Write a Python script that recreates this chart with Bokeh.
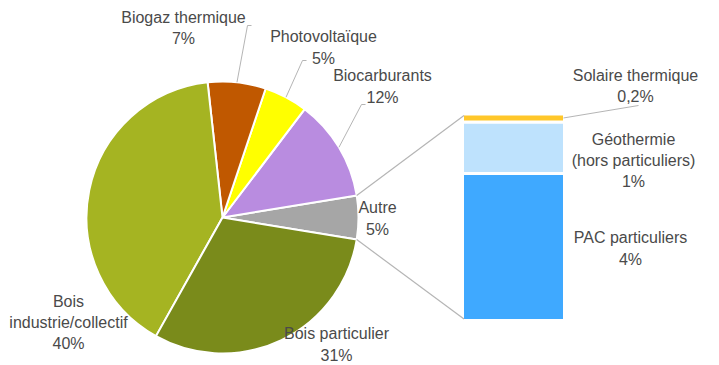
import numpy as np
from bokeh.plotting import figure
from bokeh.models import Range1d, ColumnDataSource
from bokeh.core.properties import value
from bokeh.embed import file_html
from bokeh.resources import INLINE

# ---------------- data ----------------
bar_names = ["PAC particuliers", "Géothermie\n(hors particuliers)", "Solaire thermique"]
bar_values = [3.7, 1.3, 0.2]
bar_pct = ["4%", "1%", "0,2%"]
bar_colors = ["#3FA9FF", "#BEE2FD", "#FFC72A"]

pie_names = ["Autre", "Biocarburants", "Photovoltaïque", "Biogaz thermique",
             "Bois\nindustrie/collectif", "Bois particulier"]
pie_values = [sum(bar_values), 12.1, 5.2, 6.9, 40.2, 30.6]
pie_pct = ["5%", "12%", "5%", "7%", "40%", "31%"]
pie_colors = ["#A6A6A6", "#B98CE0", "#FFFF00", "#C05800", "#A5B422", "#7A8B1B"]

# ---------------- layout (px, y measured from top) ----------------
W, H = 719, 365
CX, CY, R = 222, 217, 136           # pie centre / radius
BAR_X, BAR_W = 513, 102             # bar centre / width
BAR_TOP, BAR_BOT = 113.5, 320       # bar extent
TXT = "#4A4A4A"
LINE = "#B5B5B5"
FONT = value("Liberation Sans")

def Y(yt):
    return H - yt

p = figure(width=W, height=H, output_backend="svg", toolbar_location=None,
           x_range=Range1d(0, W), y_range=Range1d(0, H),
           x_axis_location=None, y_axis_location=None, min_border=0,
           outline_line_color=None, background_fill_color="white")
p.grid.visible = False

# bar range in percent units
total_bar = sum(bar_values)
ppu = (BAR_BOT - BAR_TOP) / total_bar
p.extra_y_ranges = {"bar": Range1d(-Y(BAR_BOT) / ppu, (H - Y(BAR_BOT)) / ppu)}

# ---------------- pie ----------------
vals = np.array(pie_values, dtype=float)
ang = vals / vals.sum() * 2 * np.pi
start = np.concatenate([[0], np.cumsum(ang)[:-1]]) - ang[0] / 2
end = start + ang
src = ColumnDataSource(dict(start=start, end=end, color=pie_colors))
p.wedge(x=CX, y=Y(CY), radius=R, radius_units="screen", start_angle="start",
        end_angle="end", fill_color="color", line_color="white", line_width=2,
        source=src)

mid = (start + end) / 2
def edge(i, r=R):
    return CX + r * np.cos(mid[i]), Y(CY) + r * np.sin(mid[i])

# ---------------- bar ----------------
bv = np.array(bar_values)
bottoms = np.concatenate([[0], np.cumsum(bv)[:-1]])
tops = bottoms + bv
bsrc = ColumnDataSource(dict(b=bottoms, t=tops, color=bar_colors))
p.vbar(x=BAR_X, width=BAR_W, bottom="b", top="t", fill_color="color",
       line_color="white", line_width=3, source=bsrc, y_range_name="bar")

# connector lines between "Autre" slice and the bar
a0, a1 = start[0], end[0]
left = BAR_X - BAR_W / 2 + 1.5
p.segment(x0=[CX + R * np.cos(a1), CX + R * np.cos(a0)],
          y0=[Y(CY) + R * np.sin(a1), Y(CY) + R * np.sin(a0)],
          x1=[left, left], y1=[Y(BAR_TOP) - 1.5, Y(BAR_BOT) + 1.5],
          line_color=LINE, line_width=1.2)

# leader lines
xs, ys = [], []
for i, (kx, ky) in zip([3, 2, 1], [(247, 25), (302, 60), (361, 104)]):
    ex, ey = edge(i)
    xs.append([ex, kx, kx + 4])
    ys.append([ey, Y(ky), Y(ky)])
sol_mid = Y(BAR_BOT) + (bottoms[2] + bv[2] / 2) * ppu
xs.append([BAR_X + BAR_W / 2 - 1, 638])
ys.append([sol_mid, Y(105)])
p.multi_line(xs=xs, ys=ys, line_color=LINE, line_width=1)

# ---------------- labels (centre x, centre y of block) ----------------
pie_lab_pos = [(377, 218), (382, 86), (323, 47), (183, 27.5), (68, 322), (336, 344)]
bar_lab_pos = [(630, 248), (633, 160), (635, 85.5)]
lx = [q[0] for q in pie_lab_pos + bar_lab_pos]
ly = [Y(q[1]) for q in pie_lab_pos + bar_lab_pos]
texts = [f"{n}\n{v}" for n, v in zip(pie_names, pie_pct)] + \
        [f"{n}\n{v}" for n, v in zip(bar_names, bar_pct)]
p.text(x=lx, y=ly, text=texts, text_align="center", text_baseline="middle",
       text_font=FONT, text_font_size="16px", text_color=TXT,
       text_line_height=1.25)

open("out.html", "w").write(file_html(p, INLINE))
